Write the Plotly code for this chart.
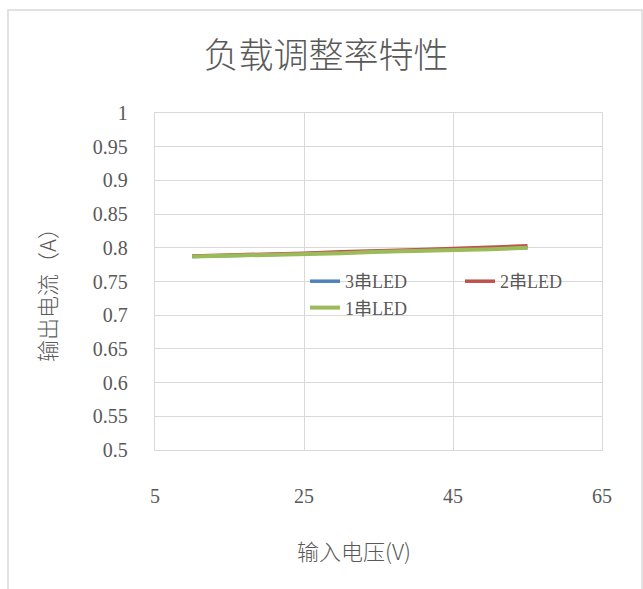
import plotly.graph_objects as go

title_text = "负载调整率特性"
x_title = "输入电压(V)"
y_title = "输出电流（A）"

voltage = [10, 15, 20, 25, 30, 35, 40, 45, 50, 55]
led3 = [0.787, 0.788, 0.790, 0.791, 0.793, 0.794, 0.796, 0.797, 0.799, 0.800]
led2 = [0.788, 0.789, 0.791, 0.792, 0.794, 0.795, 0.797, 0.799, 0.801, 0.803]
led1 = [0.787, 0.788, 0.789, 0.791, 0.792, 0.794, 0.795, 0.797, 0.798, 0.800]

x_ticks = [5, 25, 45, 65]
y_ticks = [0.5, 0.55, 0.6, 0.65, 0.7, 0.75, 0.8, 0.85, 0.9, 0.95, 1]
y_ticklabels = ["0.5", "0.55", "0.6", "0.65", "0.7", "0.75", "0.8", "0.85", "0.9", "0.95", "1"]

serif = "Liberation Serif, Noto Sans CJK SC"
sans = "Noto Sans CJK SC"
txt = "#595959"
grid = "#d9d9d9"

fig = go.Figure()
fig.add_trace(go.Scatter(x=voltage, y=led3, name="3串LED", mode="lines",
                         line=dict(color="#4F81BD", width=3.5), legend="legend"))
fig.add_trace(go.Scatter(x=voltage, y=led2, name="2串LED", mode="lines",
                         line=dict(color="#C0504D", width=3.5), legend="legend2"))
fig.add_trace(go.Scatter(x=voltage, y=led1, name="1串LED", mode="lines",
                         line=dict(color="#9BBB59", width=4), legend="legend"))

W, H = 643, 589
L, R, T, B = 155, 41, 113, 139
pw, ph = W - L - R, H - T - B

def px(xp):
    return (xp - L) / pw

def py(yp):
    return (H - B - yp) / ph

fig.update_layout(
    width=W, height=H,
    margin=dict(l=L, r=R, t=T, b=B),
    paper_bgcolor="white", plot_bgcolor="white",
    title=dict(text=title_text, x=px(326), xref="paper", xanchor="center",
               y=1 - 56 / H, yanchor="middle",
               font=dict(family=sans, size=35, color=txt, weight=300)),
    xaxis=dict(range=[5, 65], tickvals=x_ticks, showgrid=True, gridcolor=grid,
               gridwidth=1.3, zeroline=False, showline=True, linecolor=grid,
               linewidth=1.3, mirror=True, ticks="", ticklabelstandoff=28,
               tickfont=dict(family=serif, size=20, color=txt)),
    yaxis=dict(range=[0.5, 1], tickvals=y_ticks, ticktext=y_ticklabels,
               showgrid=True, gridcolor=grid, gridwidth=1.3, zeroline=False,
               showline=True, linecolor=grid, linewidth=1.3, mirror=True,
               ticks="", ticklabelstandoff=22,
               tickfont=dict(family=serif, size=20, color=txt)),
    legend=dict(x=px(305), y=py(263), xanchor="left", yanchor="top",
                orientation="v", bgcolor="rgba(0,0,0,0)",
                font=dict(family=serif, size=18, color=txt),
                tracegroupgap=0, itemwidth=30),
    legend2=dict(x=px(460), y=py(263), xanchor="left", yanchor="top",
                 orientation="v", bgcolor="rgba(0,0,0,0)",
                 font=dict(family=serif, size=18, color=txt), itemwidth=30),
    annotations=[
        dict(text=x_title, xref="paper", yref="paper", x=px(354), y=py(550),
             xanchor="center", yanchor="middle", showarrow=False,
             font=dict(family=sans, size=22, color=txt, weight=300)),
        dict(text=y_title, xref="paper", yref="paper", x=px(46), y=py(290),
             xanchor="center", yanchor="middle", showarrow=False, textangle=-90,
             font=dict(family=sans, size=22, color=txt, weight=300)),
    ],
    shapes=[
        dict(type="rect", xref="paper", yref="paper",
             x0=px(8), x1=px(642), y0=py(610), y1=py(10),
             line=dict(color=grid, width=1.5), fillcolor="rgba(0,0,0,0)",
             layer="below"),
    ],
)

fig.write_html("out.html", config={"displayModeBar": False},
               post_script="document.body.style.margin='0';document.body.style.overflow='hidden';")
